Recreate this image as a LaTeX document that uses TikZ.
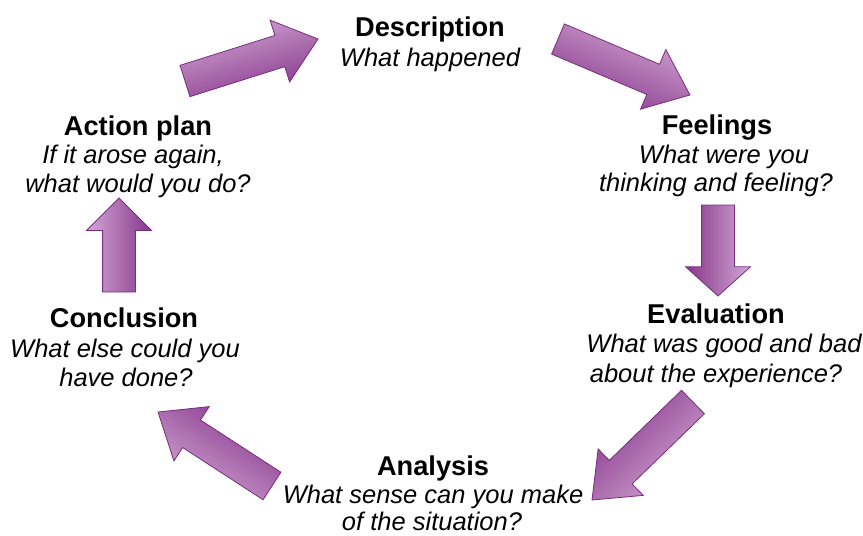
\documentclass[tikz,border=0pt]{standalone}
\usepackage{fontspec}
\setmainfont{Liberation Sans}
\usetikzlibrary{shapes.arrows,calc}
\definecolor{plight}{HTML}{D3A8D4}
\definecolor{pdark}{HTML}{86368B}
\definecolor{pedge}{HTML}{7A2C80}
\tikzset{
  blockarrow/.style={single arrow, inner xsep=0pt, inner ysep=16pt, outer sep=0pt,
    single arrow head extend=16pt, draw=pedge, line width=0.8pt,
    top color=plight, bottom color=pdark, anchor=tail},
  ttl/.style={anchor=base, inner sep=0pt, font=\fontsize{27.2}{29}\selectfont\bfseries},
  dsc/.style={anchor=base, inner sep=0pt, font=\fontsize{25.5}{29}\selectfont\itshape},
}
\newcommand{\barrow}[4]{%
  \path let \p1=($(#3)-(#2)$), \n1={atan2(\y1,\x1)}, \n2={veclen(\x1,\y1)} in
    node[blockarrow, single arrow tip angle=#4, rotate=\n1, minimum height=\n2,
         shading angle=\n1] (#1) at (#2) {};}
\begin{document}
\begin{tikzpicture}[x=1pt,y=-1pt]
\useasboundingbox (0,0) rectangle (863,536);
% arrow end points
\coordinate (t1) at (185,81);  \coordinate (p1) at (318,39);
\coordinate (t2) at (558,39);  \coordinate (p2) at (690,95);
\coordinate (t3) at (718,205); \coordinate (p3) at (718,296);
\coordinate (t4) at (693,402); \coordinate (p4) at (592,500);
\coordinate (t5) at (272,486); \coordinate (p5) at (158,412);
\coordinate (t6) at (119,292); \coordinate (p6) at (119,198);
\barrow{a1}{t1}{p1}{78}
\barrow{a2}{t2}{p2}{78}
\barrow{a3}{t3}{p3}{96}
\barrow{a4}{t4}{p4}{78}
\barrow{a5}{t5}{p5}{78}
\barrow{a6}{t6}{p6}{90}
% texts
\node[ttl] (d0) at (430,36) {Description};
\node[dsc] (d1) at (430,66) {What happened};
\node[ttl] (f0) at (717,134) {Feelings};
\node[dsc] (f1) at (724,163) {What were you};
\node[dsc] (f2) at (716,191) {thinking and feeling?};
\node[ttl] (e0) at (716,323) {Evaluation};
\node[dsc] (e1) at (724,352) {What was good and bad};
\node[dsc] (e2) at (716,382) {about the experience?};
\node[ttl] (n0) at (433,475) {Analysis};
\node[dsc] (n1) at (433,503) {What sense can you make};
\node[dsc] (n2) at (432,530) {of the situation?};
\node[ttl] (c0) at (124,327) {Conclusion};
\node[dsc] (c1) at (125,357) {What else could you};
\node[dsc] (c2) at (126,386) {have done?};
\node[ttl] (p0) at (138,135) {Action plan};
\node[dsc] (q1) at (133,163) {If it arose again,};
\node[dsc] (q2) at (138,192) {what would you do?};
\end{tikzpicture}
\end{document}
